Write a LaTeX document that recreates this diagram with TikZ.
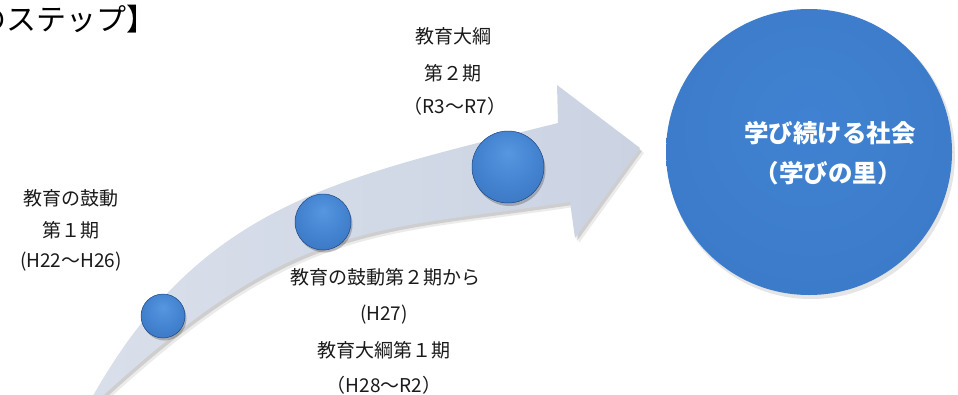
\documentclass[tikz,border=0pt]{standalone}
\usepackage{fontspec}
\newfontfamily\jp{Noto Sans CJK JP}
\definecolor{arrowA}{HTML}{D9DFEA}
\definecolor{arrowB}{HTML}{CBD3E3}
\definecolor{labeltext}{HTML}{1A1A1A}
\pgfdeclareradialshading{ballshade}{\pgfpoint{0bp}{10bp}}{%
  rgb(0bp)=(0.34,0.59,0.88); rgb(18bp)=(0.27,0.52,0.82);
  rgb(38bp)=(0.22,0.45,0.75); rgb(52bp)=(0.16,0.36,0.64); rgb(60bp)=(0.12,0.29,0.55)}
\pgfdeclareradialshading{goalshade}{\pgfpoint{0bp}{6bp}}{%
  rgb(0bp)=(0.25,0.51,0.82); rgb(40bp)=(0.23,0.47,0.78);
  rgb(50bp)=(0.21,0.44,0.74); rgb(56bp)=(0.20,0.41,0.70)}
\newcommand\arrowshape{(86,412) -- (89,403) .. controls (199,203) and (338,178) .. (558,123) -- (557,85) -- (640,148) -- (575,238) -- (570,202) .. controls (370,232) and (294,218) .. (94,404) -- cycle}
\begin{document}
\begin{tikzpicture}[x=1pt,y=-1pt,
  lbl/.style={font=\jp\fontsize{19}{19}\selectfont, text=labeltext, inner sep=0pt, anchor=center},
  ball/.style={circle, inner sep=0pt, shading=ballshade, draw={rgb,255:red,30;green,70;blue,130}, line width=.5pt},
  ballshadow/.style={circle, inner sep=0pt, fill=black, fill opacity=.22},
  goaltext/.style={font=\jp\bfseries\fontsize{24.5}{24.5}\selectfont, text=white, inner sep=0pt, anchor=center}]
\clip (0,0) rectangle (958,394);
\fill[white] (0,0) rectangle (958,394);
% title
\node[font=\jp\fontsize{30}{30}\selectfont, text=black, inner sep=0pt, anchor=east] (title) at (157,19) {のステップ】};
% arrow shadow
\begin{scope}[shift={(4,5)}]
  \fill[black, opacity=.08] \arrowshape;
\end{scope}
\begin{scope}[shift={(2,3)}]
  \fill[black, opacity=.12] \arrowshape;
\end{scope}
% arrow
\shade[left color=arrowA, right color=arrowB] \arrowshape;
% balls
\node[ballshadow, minimum size=44pt] (s1) at (164.5,318.5) {};
\node[ballshadow, minimum size=56pt] (s2) at (324.5,224.5) {};
\node[ballshadow, minimum size=72pt] (s3) at (509.5,170) {};
\node[ball, minimum size=44pt] (b1) at (163,316) {};
\node[ball, minimum size=56pt] (b2) at (323,222) {};
\node[ball, minimum size=72pt] (b3) at (508,167) {};
% goal circle
\node[circle, inner sep=0pt, minimum size=288pt, fill=black, fill opacity=.10] (goalshadow) at (811,155) {};
\node[circle, inner sep=0pt, minimum size=286pt, shading=goalshade] (goal) at (809,152) {};
\node[goaltext] (g1) at (830,133) {学び続ける社会};
\node[goaltext] (g2) at (828,173) {（学びの里）};
% labels
\node[lbl] (l1a) at (71,198) {教育の鼓動};
\node[lbl] (l1b) at (71,230) {第１期};
\node[lbl] (l1c) at (71,262) {(H22～H26)};
\node[lbl] (l3a) at (453,36) {教育大綱};
\node[lbl] (l3b) at (453,73) {第２期};
\node[lbl] (l3c) at (455,106) {（R3～R7）};
\node[lbl] (l2a) at (385,277) {教育の鼓動第２期から};
\node[lbl] (l2b) at (384,315) {(H27)};
\node[lbl] (l2c) at (384,350) {教育大綱第１期};
\node[lbl] (l2d) at (384,385) {（H28～R2）};
\end{tikzpicture}
\end{document}
